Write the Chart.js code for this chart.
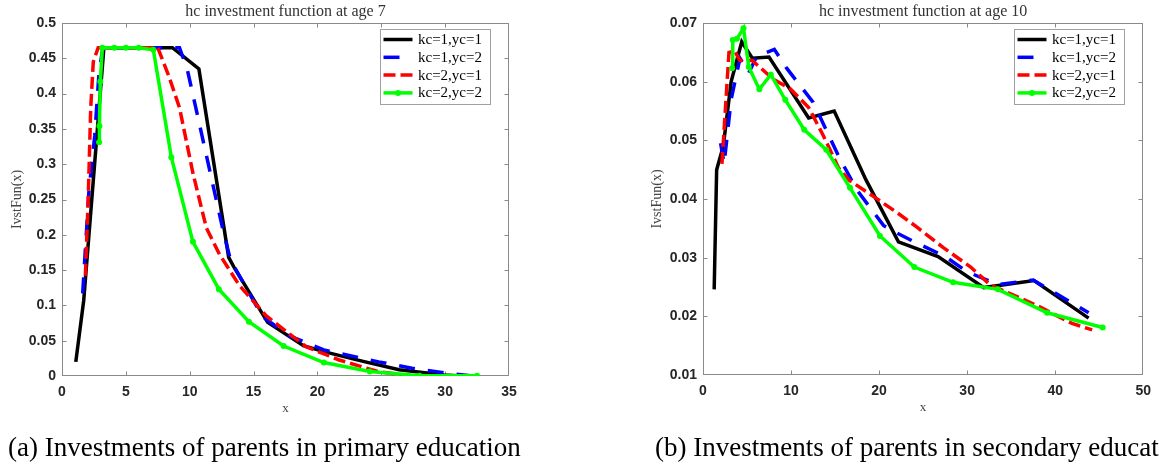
<!DOCTYPE html>
<html>
<head>
<meta charset="utf-8">
<script src="https://cdn.jsdelivr.net/npm/chart.js@4.4.1/dist/chart.umd.min.js"></script>
<style>
  html, body { margin: 0; padding: 0; background: #fff; overflow: hidden; width: 1159px; height: 464px; }
  #wrap { position: relative; width: 1159px; height: 464px; overflow: hidden; }
  canvas { position: absolute; top: 0; }
  #c7 { left: 0; }
  #c10 { left: 640px; }
  .cap { position: absolute; top: 431px; font-family: "Liberation Serif", "Times New Roman", serif;
         font-size: 27px; color: #000; white-space: nowrap; line-height: 32px; }
</style>
</head>
<body>
<div id="wrap">
  <canvas id="c7" width="560" height="464"></canvas>
  <canvas id="c10" width="519" height="464"></canvas>
  <div class="cap" style="left:8px">(a) Investments of parents in primary education</div>
  <div class="cap" style="left:655px">(b) Investments of parents in secondary education</div>
</div>
<script>
// Series labels and styles
const seriesLabels = ['kc=1,yc=1', 'kc=1,yc=2', 'kc=2,yc=1', 'kc=2,yc=2'];
const seriesColors = ['#000000', '#0000ff', '#ff0000', '#00ff00'];
const seriesDashes = [[], [16, 13], [12, 5], []];

// Age 7: investment function values
const age7_k1y1_x = [1.08, 1.70, 3.28, 8.65, 10.72, 13.05, 13.5, 16.1, 18.9, 20.5, 23.5, 26.4, 29.9, 31.0];
const age7_k1y1_y = [0.02, 0.107, 0.465, 0.465, 0.435, 0.168, 0.153, 0.076, 0.043, 0.0345, 0.021, 0.0088, 0.0015, 0.0003];
const age7_k1y2_x = [1.62, 2.1, 2.56, 2.9, 3.2, 9.2, 9.8, 12.6, 13.2, 15.7, 17.8, 20.5, 24.8, 27.4, 30.2, 32.0];
const age7_k1y2_y = [0.117, 0.26, 0.34, 0.43, 0.465, 0.465, 0.435, 0.207, 0.164, 0.084, 0.057, 0.037, 0.020, 0.011, 0.004, 0.0005];
const age7_k2y1_x = [1.83, 2.05, 2.25, 2.45, 2.83, 7.5, 8.36, 9.2, 10.25, 11.3, 12.34, 13.9, 16.0, 19.1, 21.7, 24.8, 27.2];
const age7_k2y1_y = [0.142, 0.25, 0.38, 0.445, 0.465, 0.465, 0.425, 0.38, 0.2875, 0.21, 0.172, 0.128, 0.085, 0.0416, 0.0227, 0.006, 0.0003];
const age7_k2y2_x = [2.9, 2.93, 3.0, 3.16, 4.1, 5.0, 6.0, 7.15, 8.56, 10.25, 12.28, 14.63, 17.35, 20.5, 24.1, 28.0, 32.5];
const age7_k2y2_y = [0.331, 0.354, 0.417, 0.465, 0.465, 0.465, 0.465, 0.462, 0.310, 0.190, 0.123, 0.077, 0.0425, 0.019, 0.0065, 0.0005, 0.0003];

// Age 10: investment function values
const age10_k1y1_x = [1.27, 1.55, 2.3, 3.2, 4.4, 5.6, 7.5, 12.0, 14.9, 18.5, 22.2, 26.7, 31.9, 37.6, 43.8];
const age10_k1y1_y = [0.0246, 0.045, 0.049, 0.060, 0.0668, 0.064, 0.0642, 0.0538, 0.055, 0.0433, 0.0327, 0.0302, 0.0249, 0.0261, 0.0197];
const age10_k1y2_x = [2.0, 2.4, 3.2, 4.2, 5.2, 6.1, 8.1, 9.5, 12.5, 15.5, 17.5, 20.5, 21.5, 24.0, 27.5, 30.0, 33.5, 37.5, 43.8];
const age10_k1y2_y = [0.0495, 0.046, 0.057, 0.064, 0.0615, 0.0643, 0.0655, 0.0623, 0.0565, 0.047, 0.0415, 0.0355, 0.0346, 0.0327, 0.0302, 0.0276, 0.0254, 0.0262, 0.0206];
const age10_k2y1_x = [2.15, 2.95, 3.6, 4.2, 5.6, 8.0, 9.9, 12.0, 13.6, 15.4, 16.6, 19.7, 22.3, 24.3, 27.3, 30.4, 32.6, 38.0, 41.9, 44.2];
const age10_k2y1_y = [0.046, 0.065, 0.0652, 0.0636, 0.0636, 0.0604, 0.0588, 0.0556, 0.051, 0.0453, 0.0432, 0.0401, 0.0374, 0.0352, 0.0317, 0.0284, 0.0254, 0.0218, 0.0188, 0.0177];
const age10_k2y2_x = [3.3, 3.38, 3.85, 4.6, 5.2, 6.4, 7.7, 9.35, 11.5, 14.0, 16.7, 20.1, 24.0, 28.4, 33.5, 39.1, 45.4];
const age10_k2y2_y = [0.0623, 0.0671, 0.0673, 0.0691, 0.0625, 0.0587, 0.0612, 0.0569, 0.0518, 0.0484, 0.0419, 0.0337, 0.0284, 0.0258, 0.0246, 0.0206, 0.0181];

// Axis ranges and tick steps
const age7_xTicks = { min: 0, max: 35, step: 5 };
const age7_yTicks = { min: 0, max: 0.5, step: 0.05 };
const age10_xTicks = { min: 0, max: 50, step: 10 };
const age10_yTicks = { min: 0.01, max: 0.07, step: 0.01 };

function pts(xs, ys) { return xs.map((x, i) => ({ x: x, y: ys[i] })); }

const AXIS_GREY = '#8a8a8a';
const TICK_TEXT = '#262626';

// Axes box with inward ticks on all four sides
const boxPlugin = {
  id: 'boxFrame',
  beforeDatasetsDraw(chart) {
    const { ctx, chartArea: a, scales } = chart;
    const L = Math.round(a.left) + 0.5, R = Math.round(a.right) - 0.5;
    const T = Math.round(a.top) + 0.5, B = Math.round(a.bottom) - 0.5;
    ctx.save();
    ctx.strokeStyle = AXIS_GREY;
    ctx.lineWidth = 1;
    ctx.strokeRect(L, T, R - L, B - T);
    const tl = 4;
    ctx.beginPath();
    scales.x.ticks.forEach(t => {
      const p = Math.round(scales.x.getPixelForValue(t.value)) + 0.5;
      if (p <= L + 1 || p >= R - 1) return;
      ctx.moveTo(p, B); ctx.lineTo(p, B - tl);
      ctx.moveTo(p, T); ctx.lineTo(p, T + tl);
    });
    scales.y.ticks.forEach(t => {
      const p = Math.round(scales.y.getPixelForValue(t.value)) + 0.5;
      if (p <= T + 1 || p >= B - 1) return;
      ctx.moveTo(L, p); ctx.lineTo(L + tl, p);
      ctx.moveTo(R, p); ctx.lineTo(R - tl, p);
    });
    ctx.stroke();
    ctx.restore();
  }
};

// Plot title centred over the axes box
const headPlugin = {
  id: 'plotHead',
  afterDraw(chart, args, opts) {
    const { ctx, chartArea: a } = chart;
    ctx.save();
    ctx.font = '16px "Liberation Serif", serif';
    ctx.fillStyle = '#333333';
    ctx.textAlign = 'center';
    ctx.textBaseline = 'middle';
    ctx.fillText(opts.text, (a.left + a.right) / 2, a.top - 11.5);
    ctx.restore();
  }
};

// Boxed legend in the upper right corner of the axes
const boxLegendPlugin = {
  id: 'boxLegend',
  afterDraw(chart) {
    const { ctx, chartArea: a } = chart;
    const w = 110, h = 75;
    const x0 = Math.round(a.right - 19.5 - w) + 0.5;
    const y0 = Math.round(a.top + 6) + 0.5;
    ctx.save();
    ctx.fillStyle = '#ffffff';
    ctx.fillRect(x0, y0, w, h);
    ctx.strokeStyle = '#a0a0a0';
    ctx.lineWidth = 1;
    ctx.strokeRect(x0, y0, w, h);
    chart.data.datasets.forEach((ds, i) => {
      const yy = y0 + 10 + i * 17.8;
      ctx.beginPath();
      ctx.setLineDash(ds.borderDash || []);
      ctx.strokeStyle = ds.borderColor;
      ctx.lineWidth = ds.borderWidth;
      ctx.moveTo(x0 + 3, yy);
      ctx.lineTo(x0 + 32, yy);
      ctx.stroke();
      ctx.setLineDash([]);
      if (ds.pointRadius > 0) {
        ctx.beginPath();
        ctx.fillStyle = ds.pointBackgroundColor;
        ctx.arc(x0 + 17.5, yy, ds.pointRadius, 0, Math.PI * 2);
        ctx.fill();
      }
      ctx.fillStyle = '#000000';
      ctx.font = '15px "Liberation Serif", serif';
      ctx.textAlign = 'left';
      ctx.textBaseline = 'middle';
      ctx.fillText(ds.label, x0 + 37.5, yy + 0.5);
    });
    ctx.restore();
  }
};

function makeDatasets(xsList, ysList) {
  return xsList.map((xs, i) => ({
    label: seriesLabels[i],
    data: pts(xs, ysList[i]),
    borderColor: seriesColors[i],
    backgroundColor: seriesColors[i],
    borderWidth: 3.5,
    borderDash: seriesDashes[i],
    borderCapStyle: 'butt',
    borderJoinStyle: 'miter',
    pointRadius: i === 3 ? 3 : 0,
    pointBackgroundColor: seriesColors[i],
    pointBorderWidth: 0,
    tension: 0,
    fill: false,
    order: 4 - i
  }));
}

function fmt(v) { return String(+v.toFixed(4)); }

function makeChart(canvasId, titleText, datasets, xr, yr, area) {
  const canvas = document.getElementById(canvasId);
  return new Chart(canvas, {
    type: 'scatter',
    data: { datasets: datasets },
    options: {
      responsive: false,
      animation: false,
      devicePixelRatio: 1,
      events: [],
      showLine: true,
      layout: {
        padding: {
          left: 0,
          top: area.top,
          right: canvas.width - area.right,
          bottom: canvas.height - area.bottom - 40
        }
      },
      plugins: {
        legend: { display: false },
        tooltip: { enabled: false },
        title: { display: false },
        plotHead: { text: titleText }
      },
      scales: {
        x: {
          type: 'linear',
          min: xr.min, max: xr.max,
          grid: { display: false, drawTicks: false },
          border: { display: false },
          ticks: {
            stepSize: xr.step,
            padding: 8,
            color: TICK_TEXT,
            font: { family: '"Liberation Sans", Arial, sans-serif', size: 14, weight: 'bold' },
            callback: v => fmt(v),
            maxRotation: 0
          },
          title: {
            display: true, text: 'x', color: '#444444',
            font: { family: '"Liberation Serif", serif', size: 13 },
            padding: { top: 0, bottom: 0 }
          },
          afterFit: s => { s.height = 40; }
        },
        y: {
          type: 'linear',
          min: yr.min, max: yr.max,
          grid: { display: false, drawTicks: false },
          border: { display: false },
          ticks: {
            stepSize: yr.step,
            padding: 6,
            color: TICK_TEXT,
            font: { family: '"Liberation Sans", Arial, sans-serif', size: 14, weight: 'bold' },
            callback: v => fmt(v)
          },
          title: {
            display: true, text: 'IvstFun(x)', color: '#444444',
            font: { family: '"Liberation Serif", serif', size: 14 },
            padding: { top: 9, bottom: 0 }
          },
          afterFit: s => { s.width = area.left; }
        }
      }
    },
    plugins: [boxPlugin, headPlugin, boxLegendPlugin]
  });
}

makeChart('c7', 'hc investment function at age 7',
  makeDatasets([age7_k1y1_x, age7_k1y2_x, age7_k2y1_x, age7_k2y2_x],
               [age7_k1y1_y, age7_k1y2_y, age7_k2y1_y, age7_k2y2_y]),
  age7_xTicks, age7_yTicks, { left: 62, top: 23, right: 509, bottom: 376 });

makeChart('c10', 'hc investment function at age 10',
  makeDatasets([age10_k1y1_x, age10_k1y2_x, age10_k2y1_x, age10_k2y2_x],
               [age10_k1y1_y, age10_k1y2_y, age10_k2y1_y, age10_k2y2_y]),
  age10_xTicks, age10_yTicks, { left: 63, top: 23, right: 509, bottom: 375 });
</script>
</body>
</html>
